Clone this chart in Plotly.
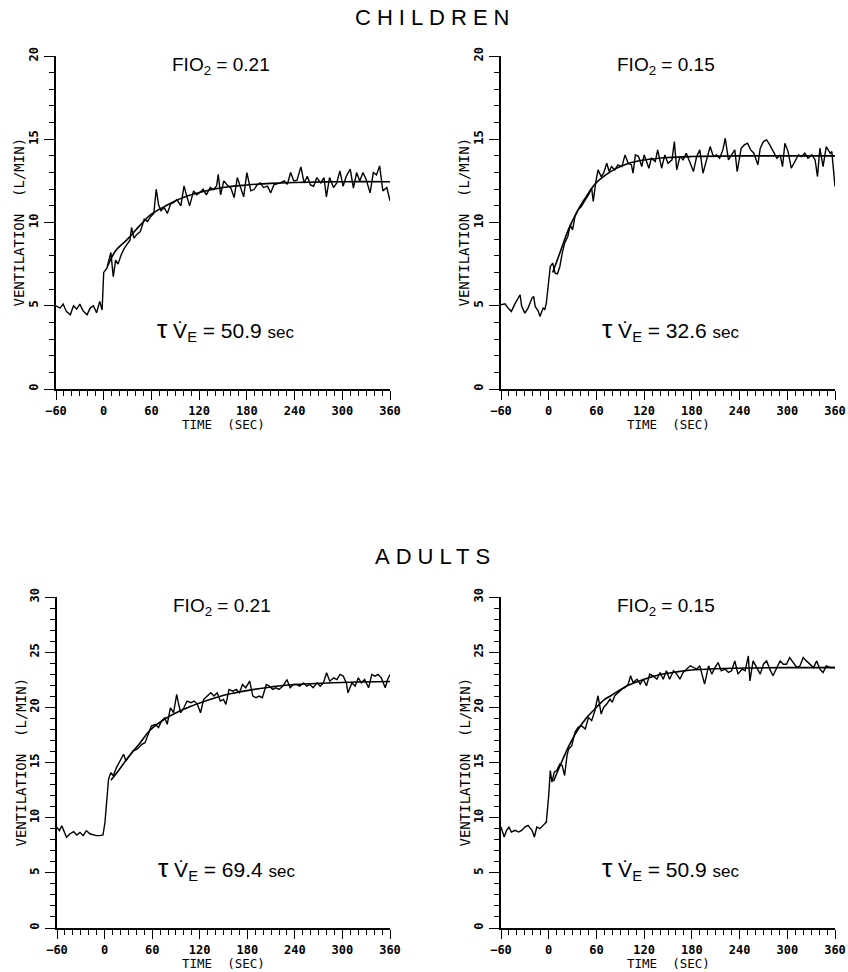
import plotly.graph_objects as go

W, H = 848, 972

# ---- data (time in s, ventilation in L/min) ----
t_child_21 = [-60, -55, -51, -47, -42, -38, -34, -30, -26, -21, -17, -13, -9, -5, -2, 0, 4, 9, 12, 15,
              18, 22, 26, 30, 33, 35, 38, 42, 46, 51, 55, 59, 63, 66, 69, 72, 76, 80, 84, 88,
              92, 97, 101, 104, 108, 113, 117, 121, 125, 129, 134, 138, 142, 144, 147, 151, 155, 160, 164, 168,
              172, 176, 180, 185, 189, 193, 197, 201, 206, 210, 214, 218, 222, 227, 231, 235, 239, 243, 248, 252,
              256, 260, 264, 268, 273, 277, 280, 284, 289, 293, 297, 301, 305, 310, 314, 318, 322, 326, 330, 335,
              339, 343, 347, 351, 356, 360]
v_child_21 = [5.0, 4.86, 5.1, 4.66, 4.46, 5.0, 4.8, 5.1, 4.7, 4.46, 4.86, 5.0, 4.58, 5.26, 4.74, 7.0, 7.26, 8.2, 6.74, 7.74,
              7.5, 8.06, 8.46, 8.74, 8.94, 9.7, 9.06, 9.3, 9.46, 10.2, 10.06, 10.34, 10.54, 12.0, 11.06, 10.7, 10.9, 10.54, 11.1, 11.2,
              11.38, 11.0, 12.2, 11.66, 11.0, 11.9, 11.66, 11.8, 12.0, 11.66, 12.1, 11.98, 12.2, 12.9, 11.66, 12.5, 12.26, 12.06, 11.5, 12.7,
              12.1, 11.54, 13.0, 11.9, 11.98, 12.26, 12.38, 12.1, 12.18, 11.78, 12.26, 12.3, 12.38, 12.5, 12.3, 13.0, 12.5, 12.54, 13.34, 12.38,
              12.78, 12.26, 12.18, 12.7, 12.38, 12.7, 11.54, 12.7, 12.1, 12.38, 13.1, 12.18, 12.78, 13.2, 12.06, 13.0, 12.5, 13.0, 12.58, 11.78,
              13.0, 12.86, 13.4, 11.9, 12.1, 11.3]
fit_t_child_21 = [5, 15, 30, 45, 60, 80, 100, 120, 150, 180, 210, 240, 300, 360]
fit_v_child_21 = [7.4, 8.3, 9.0, 9.8, 10.5, 11.05, 11.5, 11.8, 12.1, 12.25, 12.35, 12.4, 12.45, 12.45]

t_child_15 = [-60, -55, -51, -47, -42, -38, -36, -34, -30, -26, -21, -19, -17, -13, -11, -7, -5, -3, 0, 2,
              5, 8, 11, 14, 17, 20, 24, 27, 30, 33, 37, 41, 46, 50, 54, 56, 59, 62, 66, 69,
              73, 76, 79, 83, 87, 92, 96, 100, 104, 106, 109, 113, 117, 120, 123, 126, 129, 134, 137, 140,
              142, 146, 150, 155, 158, 161, 165, 169, 173, 178, 182, 186, 190, 194, 199, 203, 207, 211, 215, 219,
              222, 226, 230, 234, 237, 242, 246, 250, 254, 258, 263, 266, 270, 274, 278, 282, 287, 291, 294, 297,
              301, 305, 310, 314, 318, 322, 326, 331, 335, 338, 341, 345, 349, 354, 356, 360]
v_child_15 = [5.06, 5.12, 4.86, 4.66, 5.16, 5.56, 5.66, 4.96, 4.56, 4.86, 5.46, 5.56, 4.96, 4.66, 4.36, 4.86, 4.76, 5.16, 6.36, 7.36,
              7.56, 6.96, 6.92, 7.36, 8.16, 8.76, 9.16, 9.86, 9.56, 10.36, 10.76, 10.96, 11.36, 11.66, 12.06, 11.26, 12.36, 13.16, 12.76, 12.96,
              13.56, 13.06, 13.36, 13.16, 13.46, 13.36, 14.06, 13.56, 13.46, 12.96, 14.06, 13.96, 13.36, 14.06, 13.66, 13.26, 13.86, 13.66, 14.36, 13.66,
              13.26, 14.06, 13.56, 13.76, 14.86, 13.16, 13.96, 13.76, 14.16, 13.56, 13.06, 13.96, 14.36, 12.96, 13.86, 14.56, 13.96, 14.06, 13.86, 14.36,
              15.06, 13.76, 14.06, 14.36, 13.06, 14.46, 14.66, 14.76, 14.36, 14.16, 13.46, 14.46, 14.86, 14.96, 14.66, 14.26, 13.86, 14.06, 13.36, 14.76,
              14.26, 13.26, 13.76, 14.06, 13.96, 14.16, 13.86, 14.06, 13.76, 12.76, 14.46, 13.36, 14.56, 14.16, 14.26, 12.16]
fit_t_child_15 = [5, 15, 25, 35, 45, 58, 70, 85, 100, 120, 150, 180, 240, 360]
fit_v_child_15 = [7.0, 8.3, 9.6, 10.6, 11.4, 12.3, 12.8, 13.25, 13.55, 13.75, 13.9, 13.96, 14.0, 14.0]

t_adult_21 = [-60, -57, -54, -51, -48, -44, -39, -35, -31, -27, -23, -18, -14, -10, -6, -2, 0.5, 3, 5, 8,
              11, 15, 19, 24, 27, 31, 36, 41, 47, 51, 55, 59, 64, 68, 72, 76, 79, 83, 87, 91,
              93, 96, 100, 104, 109, 113, 117, 121, 125, 130, 134, 138, 142, 146, 150, 153, 157, 162, 166, 170,
              174, 178, 183, 187, 191, 195, 199, 204, 208, 212, 216, 220, 225, 230, 234, 238, 242, 246, 251, 255,
              259, 263, 268, 272, 276, 280, 284, 289, 293, 297, 301, 305, 307, 312, 316, 320, 324, 328, 333, 337,
              341, 345, 349, 354, 357, 360]
v_adult_21 = [9.12, 8.82, 9.27, 8.67, 8.22, 8.52, 8.73, 8.43, 8.67, 8.37, 8.82, 8.52, 8.43, 8.37, 8.37, 8.43, 9.57, 12.28, 13.49, 14.09,
              13.79, 14.54, 15.14, 15.75, 15.14, 15.6, 16.05, 16.2, 16.65, 16.8, 17.55, 18.31, 18.46, 18.16, 18.76, 19.06, 18.46, 19.96, 19.51, 21.17,
              20.42, 19.51, 19.96, 20.57, 20.42, 20.57, 20.27, 19.51, 20.72, 21.02, 21.32, 21.02, 21.32, 20.57, 20.72, 20.27, 21.62, 21.47, 21.62, 21.32,
              22.07, 21.77, 22.37, 21.02, 20.87, 21.02, 20.87, 22.07, 21.92, 21.62, 21.77, 21.62, 21.92, 22.52, 21.77, 22.07, 22.07, 21.92, 22.22, 21.92,
              22.07, 21.77, 22.22, 21.92, 22.22, 23.13, 22.37, 22.67, 22.52, 22.98, 22.83, 22.22, 21.32, 22.22, 21.92, 22.67, 22.22, 22.52, 21.77, 22.98,
              22.83, 22.98, 22.67, 21.77, 22.52, 22.98]
fit_t_adult_21 = [8, 17, 30, 45, 57, 75, 99, 120, 141, 160, 183, 210, 225, 267, 310, 360]
fit_v_adult_21 = [13.4, 14.2, 15.5, 16.8, 17.9, 18.9, 19.8, 20.4, 20.9, 21.25, 21.56, 21.85, 21.98, 22.16, 22.28, 22.34]

t_adult_15 = [-60, -56, -53, -50, -47, -42, -38, -34, -30, -26, -21, -18, -15, -11, -7, -3, 0, 2, 4, 7,
              10, 14, 17, 20, 23, 25, 29, 33, 37, 41, 46, 50, 54, 58, 62, 66, 69, 73, 77, 80,
              83, 87, 92, 96, 100, 103, 106, 111, 115, 119, 123, 127, 131, 136, 140, 144, 148, 152, 157, 161,
              165, 169, 173, 178, 182, 186, 190, 194, 196, 201, 205, 209, 213, 217, 222, 226, 230, 234, 238, 243,
              247, 251, 253, 257, 261, 266, 270, 274, 278, 282, 287, 291, 295, 299, 303, 307, 312, 316, 320, 324,
              328, 333, 337, 341, 345, 349, 354, 360]
v_adult_15 = [9.15, 8.25, 8.85, 9.15, 8.7, 8.85, 8.7, 8.85, 9.15, 9.3, 8.85, 8.25, 9.15, 9.0, 9.3, 9.6, 12.01, 14.27, 13.22, 14.12,
              14.27, 14.87, 14.72, 13.82, 15.63, 16.23, 16.53, 17.73, 18.19, 18.34, 18.04, 19.09, 18.79, 19.69, 21.05, 19.39, 19.99, 20.3, 20.75, 20.45,
              21.05, 21.35, 21.65, 21.8, 22.1, 22.86, 22.25, 22.55, 22.1, 22.55, 21.95, 23.01, 22.86, 22.55, 23.16, 22.55, 23.31, 22.55, 23.31, 23.01,
              22.55, 23.16, 23.46, 23.76, 23.61, 23.46, 23.76, 22.55, 22.1, 23.76, 23.01, 23.61, 24.06, 23.31, 23.46, 23.16, 23.31, 24.21, 23.01, 23.46,
              23.31, 24.66, 22.4, 24.21, 23.61, 23.01, 23.91, 24.21, 23.46, 22.86, 23.61, 24.21, 23.91, 23.91, 24.51, 24.06, 23.61, 23.76, 24.51, 24.21,
              23.91, 23.61, 24.21, 23.46, 23.16, 23.76, 23.61, 23.61]
fit_t_adult_15 = [6, 16, 26, 37, 47, 58, 70, 79, 90, 100, 120, 142, 160, 184, 220, 260, 300, 360]
fit_v_adult_15 = [13.3, 15.0, 16.6, 18.0, 19.0, 19.85, 20.7, 21.1, 21.6, 22.0, 22.55, 23.0, 23.2, 23.4, 23.52, 23.57, 23.6, 23.6]

group_titles = ["CHILDREN", "ADULTS"]
fio2_labels = ["0.21", "0.15", "0.21", "0.15"]
tau_labels = ["50.9", "32.6", "69.4", "50.9"]
y_max = [20, 20, 30, 30]

panels = [
    (t_child_21, v_child_21, fit_t_child_21, fit_v_child_21),
    (t_child_15, v_child_15, fit_t_child_15, fit_v_child_15),
    (t_adult_21, v_adult_21, fit_t_adult_21, fit_v_adult_21),
    (t_adult_15, v_adult_15, fit_t_adult_15, fit_v_adult_15),
]

# plot-area boxes in pixels: (left, right, top, bottom)
boxes = [(56, 390, 56, 389), (501, 835, 56, 389), (57, 390, 597, 928), (501, 835, 597, 928)]

fig = go.Figure()
tick_font = dict(family="DejaVu Sans Mono", size=12, color="black", weight="bold")
annots = []

for i, (tt, vv, ft, fv) in enumerate(panels):
    n = "" if i == 0 else str(i + 1)
    xa, ya = "x" + n, "y" + n
    fig.add_trace(go.Scatter(x=tt, y=vv, mode="lines", xaxis=xa, yaxis=ya,
                             line=dict(color="black", width=1.4), hoverinfo="skip"))
    fig.add_trace(go.Scatter(x=ft, y=fv, mode="lines", xaxis=xa, yaxis=ya,
                             line=dict(color="black", width=1.6, shape="spline"), hoverinfo="skip"))

    l, r, t, b = boxes[i]
    fig.update_layout(**{
        "xaxis" + n: dict(domain=[l / W, r / W], anchor=ya, range=[-60, 360], automargin=False,
                          tickmode="linear", tick0=-60, dtick=60,
                          ticks="outside", ticklen=9, tickwidth=1.4, tickcolor="black",
                          minor=dict(dtick=10, ticks="outside", ticklen=5, tickwidth=1.4, tickcolor="black"),
                          showline=True, linecolor="black", linewidth=1.5,
                          showgrid=False, zeroline=False, tickfont=tick_font, ticklabelstandoff=1),
        "yaxis" + n: dict(domain=[1 - b / H, 1 - t / H], anchor=xa, range=[0, y_max[i]], automargin=False,
                          tickmode="linear", tick0=0, dtick=5, tickangle=-90,
                          ticks="outside", ticklen=10, tickwidth=1.4, tickcolor="black",
                          minor=dict(dtick=1, ticks="outside", ticklen=5, tickwidth=1.4, tickcolor="black"),
                          showline=True, linecolor="black", linewidth=1.5,
                          showgrid=False, zeroline=False, tickfont=tick_font, ticklabelstandoff=1),
    })

    # axis titles
    annots.append(dict(text="TIME  (SEC)", x=(l + r) / 2 / W, y=1 - (b + 35.5) / H,
                       xref="paper", yref="paper", showarrow=False, xanchor="center", yanchor="middle",
                       font=dict(family="DejaVu Sans Mono", size=12.5, color="black")))
    annots.append(dict(text="VENTILATION  (L/MIN)", x=(l - 37) / W, y=1 - (t + b) / 2 / H,
                       xref="paper", yref="paper", showarrow=False, textangle=-90,
                       xanchor="center", yanchor="middle",
                       font=dict(family="DejaVu Sans Mono", size=14, color="black")))
    # panel labels
    annots.append(dict(text="FIO<sub>2</sub> = " + fio2_labels[i], x=(l + 165) / W, y=1 - (t + 10) / H,
                       xref="paper", yref="paper", showarrow=False, xanchor="center", yanchor="middle",
                       font=dict(family="Liberation Sans", size=19, color="black")))
    annots.append(dict(text="<span style='font-size:26px'>τ</span> V\u0307<sub>E</sub> = " + tau_labels[i]
                       + " <span style='font-size:17px'>sec</span>",
                       x=(l + 170) / W, y=1 - (b - 60) / H,
                       xref="paper", yref="paper", showarrow=False, xanchor="center", yanchor="middle",
                       font=dict(family="Liberation Sans", size=21, color="black")))

for title, py in zip(group_titles, [18, 556]):
    annots.append(dict(text="<span style='letter-spacing:6px'>" + title + "</span>", x=435 / W, y=1 - py / H,
                       xref="paper", yref="paper", showarrow=False, xanchor="center", yanchor="middle",
                       font=dict(family="Liberation Sans", size=22, color="black")))

fig.update_layout(width=W, height=H, margin=dict(l=0, r=0, t=0, b=0, autoexpand=False),
                  paper_bgcolor="white", plot_bgcolor="white", showlegend=False,
                  annotations=annots)

# the page body has a default 8px margin; drop it so the figure fills the window
fig.write_html("out.html", config={"displayModeBar": False},
               post_script="document.body.style.margin='0px';")
